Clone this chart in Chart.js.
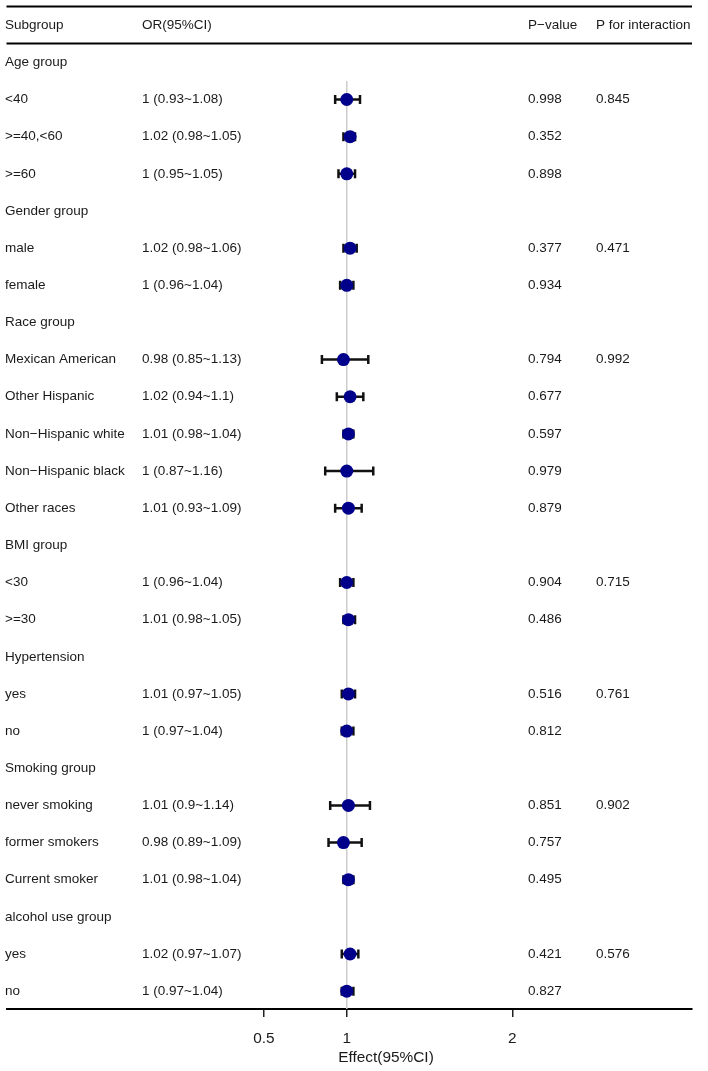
<!DOCTYPE html>
<html>
<head>
<meta charset="utf-8">
<script src="https://cdn.jsdelivr.net/npm/chart.js@4.4.1/dist/chart.umd.min.js"></script>
<style>
  html, body { margin: 0; padding: 0; background: #fff; }
  #wrap { width: 708px; height: 1071px; }
</style>
</head>
<body>
<div id="wrap"><canvas id="forest"></canvas></div>
<script>
// ---- data ----
const MINUS = '\u2212';
const subgroups = [
    'Age group', '<40', '>=40,<60', '>=60',
    'Gender group', 'male', 'female',
    'Race group', 'Mexican American', 'Other Hispanic', 'Non' + MINUS + 'Hispanic white', 'Non' + MINUS + 'Hispanic black', 'Other races',
    'BMI group', '<30', '>=30',
    'Hypertension', 'yes', 'no',
    'Smoking group', 'never smoking', 'former smokers', 'Current smoker',
    'alcohol use group', 'yes', 'no'
];
const orValues = [null, 1, 1.02, 1, null, 1.02, 1, null, 0.98, 1.02, 1.01, 1, 1.01, null, 1, 1.01, null, 1.01, 1, null, 1.01, 0.98, 1.01, null, 1.02, 1];
const ciLower  = [null, 0.93, 0.98, 0.95, null, 0.98, 0.96, null, 0.85, 0.94, 0.98, 0.87, 0.93, null, 0.96, 0.98, null, 0.97, 0.97, null, 0.9, 0.89, 0.98, null, 0.97, 0.97];
const ciUpper  = [null, 1.08, 1.05, 1.05, null, 1.06, 1.04, null, 1.13, 1.1, 1.04, 1.16, 1.09, null, 1.04, 1.05, null, 1.05, 1.04, null, 1.14, 1.09, 1.04, null, 1.07, 1.04];
const pValues  = ['', '0.998', '0.352', '0.898', '', '0.377', '0.934', '', '0.794', '0.677', '0.597', '0.979', '0.879', '', '0.904', '0.486', '', '0.516', '0.812', '', '0.851', '0.757', '0.495', '', '0.421', '0.827'];
const pInteraction = ['', '0.845', '', '', '', '0.471', '', '', '0.992', '', '', '', '', '', '0.715', '', '', '0.761', '', '', '0.902', '', '', '', '0.576', ''];
const headers = ['Subgroup', 'OR(95%CI)', 'P' + MINUS + 'value', 'P for interaction'];
const xTicks = [0.5, 1, 2];
const axisTitle = 'Effect(95%CI)';

// ---- layout ----
const FONT = '"Liberation Sans", Arial, sans-serif';
const TEXT = '#1a1a1a';
const COL_X = [5, 142, 528, 596];
const ROW_MIN = -1.504, ROW_MAX = 25.48;
const X_MIN = 1 - 341 / 166, X_MAX = 1 + 346 / 166;

const points = [];
orValues.forEach((v, i) => { if (v != null) points.push({ x: v, y: i }); });

// error bars, drawn right after the reference line so the dots sit on top
const whiskers = {
    id: 'whiskers',
    afterDatasetDraw(chart, args) {
        if (args.index !== 1) return;
        const { ctx, scales: { x, y } } = chart;
        ctx.save();
        ctx.strokeStyle = '#111';
        ctx.lineWidth = 2.5;
        orValues.forEach((v, i) => {
            if (v == null) return;
            const py = y.getPixelForValue(i);
            const x0 = x.getPixelForValue(ciLower[i]);
            const x1 = x.getPixelForValue(ciUpper[i]);
            ctx.beginPath();
            ctx.moveTo(x0, py); ctx.lineTo(x1, py);
            ctx.moveTo(x0, py - 4.5); ctx.lineTo(x0, py + 4.5);
            ctx.moveTo(x1, py - 4.5); ctx.lineTo(x1, py + 4.5);
            ctx.stroke();
        });
        ctx.restore();
    }
};

// table columns and rules
const table = {
    id: 'table',
    afterDraw(chart) {
        const { ctx, chartArea, scales: { x, y } } = chart;
        ctx.save();
        ctx.fillStyle = TEXT;
        ctx.font = `13.5px ${FONT}`;
        ctx.textBaseline = 'middle';
        ctx.textAlign = 'left';
        const hy = y.getPixelForValue(-1);
        headers.forEach((h, c) => ctx.fillText(h, COL_X[c], hy));
        subgroups.forEach((s, i) => {
            const py = y.getPixelForValue(i);
            ctx.fillText(s, COL_X[0], py);
            if (orValues[i] != null) ctx.fillText(`${orValues[i]} (${ciLower[i]}~${ciUpper[i]})`, COL_X[1], py);
            ctx.fillText(pValues[i], COL_X[2], py);
            ctx.fillText(pInteraction[i], COL_X[3], py);
        });
        ctx.strokeStyle = '#000';
        ctx.lineWidth = 2;
        [chartArea.top, y.getPixelForValue(-0.51)].forEach(ly => {
            ctx.beginPath();
            ctx.moveTo(chartArea.left, ly);
            ctx.lineTo(chartArea.right, ly);
            ctx.stroke();
        });
        ctx.textAlign = 'center';
        ctx.font = `15.4px ${FONT}`;
        ctx.fillText(axisTitle, 386, x.bottom - 13);
        ctx.restore();
    }
};

new Chart(document.getElementById('forest'), {
    type: 'scatter',
    data: {
        datasets: [
            { data: points, order: 0, pointRadius: 6.5, pointHoverRadius: 6.5,
              backgroundColor: '#00008b', borderColor: '#00008b', borderWidth: 0 },
            { data: [{ x: 1, y: 0.5 }, { x: 1, y: ROW_MAX }], order: 1, showLine: true,
              borderColor: '#cccccc', borderWidth: 1.5, pointRadius: 0 }
        ]
    },
    options: {
        responsive: true, maintainAspectRatio: false, animation: false,
        layout: { padding: { top: 5, left: 5, right: 16, bottom: 0 } },
        plugins: { legend: { display: false }, tooltip: { enabled: false } },
        scales: {
            x: {
                type: 'linear', min: X_MIN, max: X_MAX,
                afterBuildTicks: s => { s.ticks = xTicks.map(v => ({ value: v })); },
                afterFit: s => { s.height = 62; },
                ticks: { color: TEXT, font: { family: FONT, size: 15.4 }, padding: 13, autoSkip: false, maxRotation: 0,
                         callback: v => String(v) },
                grid: { drawOnChartArea: false, drawTicks: true, tickLength: 8, color: '#222', lineWidth: 1.5 },
                border: { display: true, color: '#000', width: 2 }
            },
            y: { type: 'linear', reverse: true, min: ROW_MIN, max: ROW_MAX, display: false }
        }
    },
    plugins: [whiskers, table]
});
</script>
</body>
</html>
